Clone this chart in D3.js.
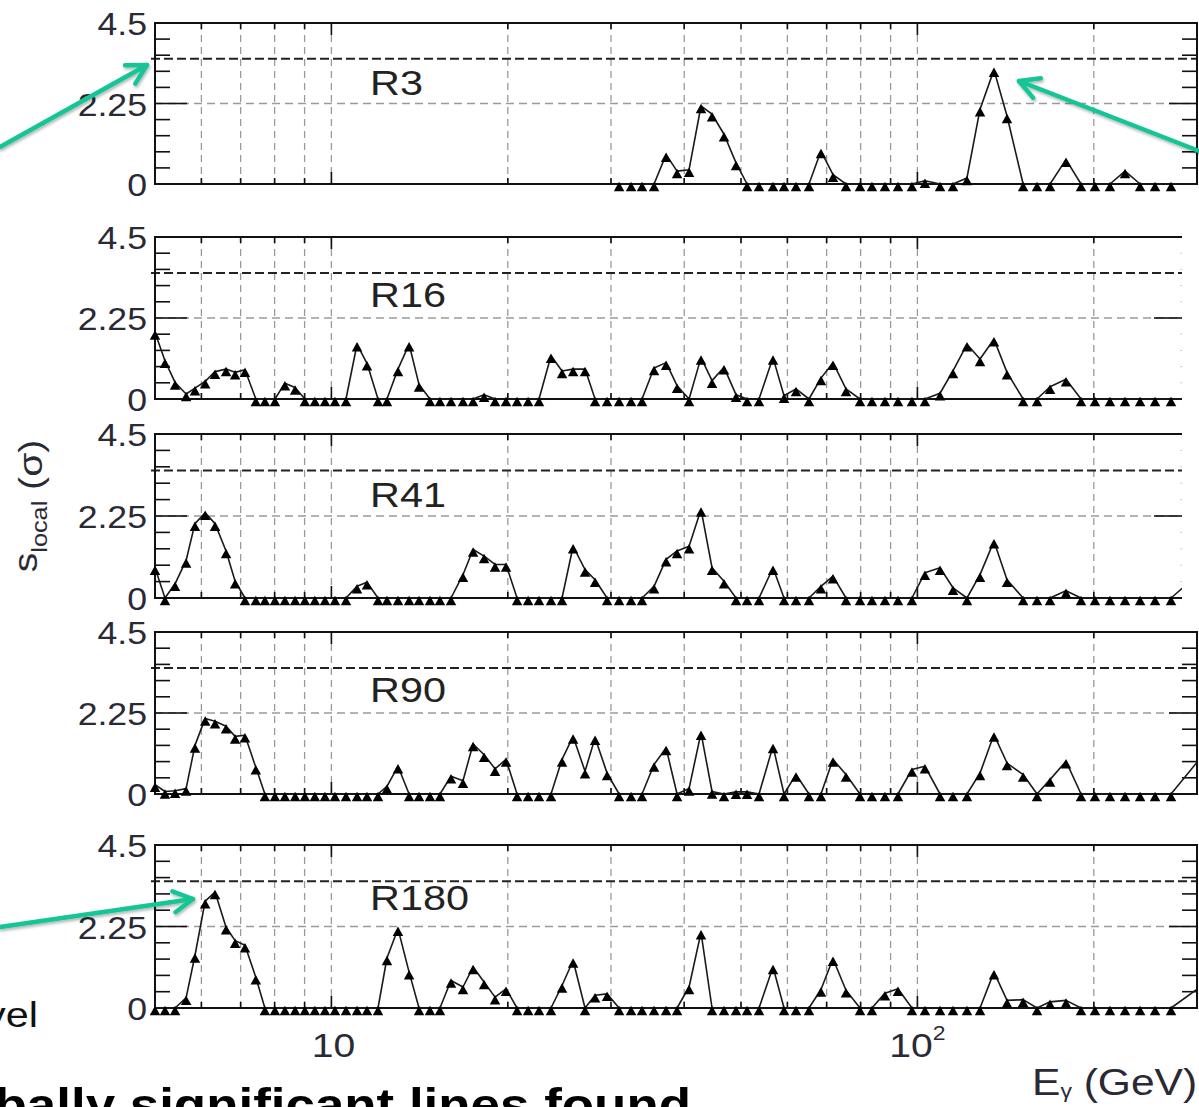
<!DOCTYPE html>
<html>
<head>
<meta charset="utf-8">
<script src="https://cdn.jsdelivr.net/npm/d3@7"></script>
<style>
  html, body { margin: 0; padding: 0; background: #fff; overflow: hidden; }
  svg { display: block; }
  text { font-family: "Liberation Sans", Arial, Helvetica, sans-serif; fill: #222; }
</style>
</head>
<body>
<svg id="chart" width="1199" height="1107"></svg>
<script>
// Line energies (GeV) at which the fits were done, shared by every region
const energies = [
  5.00, 5.20, 5.41, 5.65, 5.85, 6.09, 6.33, 6.61, 6.85, 7.12,
  7.43, 7.70, 8.01, 8.33, 8.67, 9.01, 9.37, 9.75, 10.14, 10.59,
  11.06, 11.50, 12.01, 12.44, 12.99, 13.57, 14.11, 14.73, 15.32, 16.00,
  16.77, 17.45, 18.22, 19.02, 19.86, 20.74, 21.66, 22.61, 23.70, 24.75,
  25.85, 27.09, 28.18, 29.54, 30.97, 32.46, 33.89, 35.53, 37.25, 38.89,
  40.77, 42.73, 44.62, 46.77, 49.03, 51.20, 53.67, 56.70, 59.21, 62.06,
  65.31, 68.46, 71.77, 75.53, 79.80, 83.65, 88.03, 92.65, 97.88, 103.0,
  109.3, 115.0, 121.5, 127.9, 135.1, 142.2, 151.5, 160.0, 168.4, 179.3,
  190.2, 200.9, 213.1, 226.1, 239.9, 254.4, 270.9, 318.3
];

// Region names, one panel each
const regionNames = ["R3", "R16", "R41", "R90", "R180"];

// Local significance (sigma) per region; R3 has no fits below ~30 GeV
const sigmaR3 = [
  null, null, null, null, null, null, null, null, null, null,
  null, null, null, null, null, null, null, null, null, null,
  null, null, null, null, null, null, null, null, null, null,
  null, null, null, null, null, null, null, null, null, null,
  null, null, null, null, 0, 0, 0, 0, 0.82, 0.36,
  0.40, 2.18, 1.95, 1.39, 0.59, 0, 0, 0, 0, 0,
  0, 0.92, 0.26, 0, 0, 0, 0, 0, 0, 0.09,
  0, 0, 0.17, 2.09, 3.19, 1.90, 0, 0, 0, 0.68,
  0, 0, 0, 0.36, 0, 0, 0, 0
];
const sigmaR16 = [
  1.85, 1.06, 0.46, 0.14, 0.30, 0.49, 0.76, 0.83, 0.74, 0.81,
  0, 0, 0, 0.44, 0.32, 0, 0, 0, 0, 0,
  1.52, 0.99, 0, 0, 0.83, 1.52, 0.40, 0, 0, 0,
  0, 0, 0.12, 0, 0, 0, 0, 0, 1.20, 0.78,
  0.83, 0.83, 0, 0, 0, 0, 0, 0.86, 1.01, 0.37,
  0, 1.15, 0.51, 0.88, 0.12, 0, 0, 1.15, 0.09, 0.28,
  0, 0.58, 1.01, 0.28, 0, 0, 0, 0, 0, 0,
  0.16, 0.78, 1.52, 1.11, 1.66, 0.74, 0, 0, 0.34, 0.55,
  0, 0, 0, 0, 0, 0, 0, 0
];
const sigmaR41 = [
  0.83, 0, 0.39, 1.03, 2.04, 2.34, 2.04, 1.29, 0.46, 0,
  0, 0, 0, 0, 0, 0, 0, 0, 0, 0,
  0.32, 0.43, 0, 0, 0, 0, 0, 0, 0, 0,
  0.64, 1.33, 1.15, 0.92, 0.92, 0, 0, 0, 0, 0,
  1.42, 0.78, 0.50, 0, 0, 0, 0, 0.32, 1.06, 1.29,
  1.42, 2.43, 0.83, 0.46, 0, 0, 0, 0.83, 0, 0,
  0, 0.32, 0.60, 0, 0, 0, 0, 0, 0, 0.69,
  0.83, 0.28, 0, 0.64, 1.56, 0.50, 0, 0, 0, 0.20,
  0, 0, 0, 0, 0, 0, 0, 0.97
];
const sigmaR90 = [
  0.26, 0.07, 0.09, 0.15, 1.35, 2.10, 2.02, 1.88, 1.60, 1.63,
  0.74, 0, 0, 0, 0, 0, 0, 0, 0, 0,
  0, 0, 0, 0.21, 0.77, 0, 0, 0, 0, 0.49,
  0.37, 1.39, 1.09, 0.70, 0.96, 0, 0, 0, 0, 0.96,
  1.60, 0.63, 1.56, 0.58, 0, 0, 0, 0.82, 1.28, 0,
  0.15, 1.70, 0.07, 0, 0.06, 0.06, 0, 1.33, 0, 0.54,
  0, 0, 0.96, 0.54, 0, 0, 0, 0, 0.68, 0.77,
  0, 0, 0, 0.58, 1.65, 0.86, 0.54, 0, 0.40, 0.91,
  0, 0, 0, 0, 0, 0, 0, 1.39
];
const sigmaR180 = [
  0, 0, 0, 0.28, 1.45, 2.95, 3.20, 2.23, 1.86, 1.73,
  0.85, 0, 0, 0, 0, 0, 0, 0, 0, 0,
  0, 0, 0, 1.38, 2.19, 0.99, 0, 0, 0, 0.76,
  0.58, 1.13, 0.72, 0.30, 0.53, 0, 0, 0, 0, 0.62,
  1.31, 0, 0.35, 0.39, 0, 0, 0, 0, 0, 0,
  0.58, 2.09, 0, 0, 0, 0, 0, 1.13, 0, 0,
  0, 0.51, 1.36, 0.49, 0, 0, 0.41, 0.53, 0, 0,
  0, 0, 0, 0, 0.99, 0.21, 0.23, 0, 0.17, 0.21,
  0, 0, 0, 0, 0, 0, 0, 0.82
];

// Axis settings
const xDomain = [5, 300];
const xGridValues = [6, 7, 8, 9, 10, 20, 30, 40, 50, 60, 70, 80, 90, 100, 200];
const xMajorValues = [10, 100];
const yDomain = [0, 4.5];
const yTickLabels = ["0", "2.25", "4.5"];
const yMajorValues = [0, 2.25, 4.5];
const yMinorValues = [0.45, 0.9, 1.35, 1.8, 2.7, 3.15, 3.6, 4.05];
const thresholdSigma = 3.5;

const seriesList = [sigmaR3, sigmaR16, sigmaR41, sigmaR90, sigmaR180];

// ---------------- layout ----------------
const W = 1199, H = 1107;
const plotLeft = 155;
const panelLayout = [
  { top: 23,  zero: 184,  right: 1197, faintRight: false, labelY: 95 },
  { top: 237, zero: 399,  right: 1182, faintRight: true,  labelY: 307 },
  { top: 434, zero: 598,  right: 1182, faintRight: true,  labelY: 507 },
  { top: 632, zero: 794,  right: 1197, faintRight: false, labelY: 702 },
  { top: 845, zero: 1008, right: 1197, faintRight: false, labelY: 910 }
];
const SX = 1.15;           // horizontal stretch of the lettering
const teal = "#14c596";

const svg = d3.select("#chart");
const defs = svg.append("defs");
defs.append("filter").attr("id", "arrowShadow")
  .attr("x", "-20%").attr("y", "-20%").attr("width", "140%").attr("height", "140%")
  .append("feDropShadow")
  .attr("dx", 1).attr("dy", 2).attr("stdDeviation", 1.6)
  .attr("flood-color", "#000").attr("flood-opacity", 0.3);

const x = d3.scaleLog().domain(xDomain).range([plotLeft, 1197]);

function label(parent, px, py, str, size, anchor, weight) {
  return parent.append("text")
    .attr("transform", `translate(${px},${py}) scale(${SX},1)`)
    .attr("text-anchor", anchor || "start")
    .style("font-size", size + "px")
    .style("font-weight", weight || "normal")
    .text(str);
}

const triW = 10.5, triH = 9.5, triDy = 2.5;
const triPath = `M0,${-triH / 2 + triDy}L${triW / 2},${triH / 2 + triDy}L${-triW / 2},${triH / 2 + triDy}Z`;

seriesList.forEach((values, i) => {
  const L = panelLayout[i];
  const y = d3.scaleLinear().domain(yDomain).range([L.zero, L.top]);
  const g = svg.append("g").attr("class", "panel");
  const right = L.right;

  // vertical grid
  g.append("g").selectAll("line").data(xGridValues).join("line")
    .attr("x1", d => x(d)).attr("x2", d => x(d))
    .attr("y1", L.top).attr("y2", L.zero)
    .attr("stroke", "#9a9a9a").attr("stroke-width", 1.3)
    .attr("stroke-dasharray", "7,5");

  // horizontal grid at the middle tick
  g.append("line")
    .attr("x1", plotLeft).attr("x2", right)
    .attr("y1", y(2.25)).attr("y2", y(2.25))
    .attr("stroke", "#9a9a9a").attr("stroke-width", 1.3)
    .attr("stroke-dasharray", "8,5");

  // threshold level
  g.append("line")
    .attr("x1", plotLeft - 4).attr("x2", right)
    .attr("y1", y(thresholdSigma)).attr("y2", y(thresholdSigma))
    .attr("stroke", "#222").attr("stroke-width", 2)
    .attr("stroke-dasharray", "9,4");

  // y ticks (left, inward)
  const tickG = g.append("g").attr("stroke", "#111").attr("stroke-width", 1.6);
  tickG.selectAll(".lmin").data(yMinorValues).join("line")
    .attr("x1", plotLeft).attr("x2", plotLeft + 15)
    .attr("y1", d => y(d)).attr("y2", d => y(d));
  tickG.append("line")
    .attr("x1", plotLeft).attr("x2", plotLeft + 32)
    .attr("y1", y(2.25)).attr("y2", y(2.25));

  // y ticks (right, inward)
  if (!L.faintRight) {
    tickG.selectAll(".rmin").data(yMinorValues).join("line")
      .attr("x1", right).attr("x2", right - 15)
      .attr("y1", d => y(d)).attr("y2", d => y(d));
  } else {
    g.append("g").selectAll("line").data(yMinorValues).join("line")
      .attr("x1", right).attr("x2", right - 1.5)
      .attr("y1", d => y(d)).attr("y2", d => y(d))
      .attr("stroke", "#bbb").attr("stroke-width", 1);
  }
  tickG.append("line")
    .attr("x1", right).attr("x2", right - 28)
    .attr("y1", y(2.25)).attr("y2", y(2.25));

  // x ticks on bottom and top borders
  tickG.selectAll(".xb").data(xGridValues).join("line")
    .attr("x1", d => x(d)).attr("x2", d => x(d))
    .attr("y1", L.zero).attr("y2", d => L.zero - (xMajorValues.includes(d) ? 12 : 6));
  tickG.selectAll(".xt").data(xGridValues).join("line")
    .attr("x1", d => x(d)).attr("x2", d => x(d))
    .attr("y1", L.top).attr("y2", d => L.top + (xMajorValues.includes(d) ? 12 : 6));

  // frame
  const frame = g.append("g").attr("fill", "none").attr("stroke", "#111").attr("stroke-width", 2);
  frame.append("path")
    .attr("d", L.faintRight
      ? `M${right},${L.top}H${plotLeft}V${L.zero}H${right}`
      : `M${plotLeft},${L.top}H${right}V${L.zero}H${plotLeft}Z`);

  // y tick labels
  yMajorValues.forEach((v, k) => {
    label(g, 147, y(v) + 12, yTickLabels[k], 31, "end").style("fill", "#2a2a36");
  });

  // region name
  label(g, 370, L.labelY, regionNames[i], 36, "start");

  // data: line and triangle markers, clipped at the right border
  const clipId = "clip" + i;
  defs.append("clipPath").attr("id", clipId)
    .append("rect").attr("x", 0).attr("y", 0).attr("width", right).attr("height", H);

  const pts = energies.map((e, k) => ({ e, v: values[k] }));
  const dataG = g.append("g").attr("clip-path", `url(#${clipId})`);
  const line = d3.line()
    .defined(d => d.v != null)
    .x(d => x(d.e))
    .y(d => y(d.v));
  dataG.append("path")
    .datum(pts)
    .attr("d", line)
    .attr("fill", "none")
    .attr("stroke", "#1a1a1a")
    .attr("stroke-width", 1.6)
    .attr("stroke-linejoin", "round");
  dataG.selectAll("path.mk").data(pts.filter(d => d.v != null)).join("path")
    .attr("class", "mk")
    .attr("d", triPath)
    .attr("transform", d => `translate(${x(d.e)},${y(d.v)})`)
    .attr("fill", "#000");
});

// x-axis labels under the last panel
const xl = svg.append("g");
label(xl, x(10) + 2, 1057, "10", 34, "middle").style("fill", "#2a2a36");
const t100 = label(xl, x(100), 1057, "", 34, "middle").style("fill", "#2a2a36");
t100.append("tspan").text("10");
t100.append("tspan").attr("dy", -17).style("font-size", "20px").text("2");

const et = label(xl, 1032, 1095, "", 37, "start").style("fill", "#2a2a36");
et.append("tspan").text("E");
et.append("tspan").attr("dy", 3).style("font-size", "20px").text("γ");
et.append("tspan").attr("dy", -3).text(" (GeV)");

// y-axis title, read bottom to top
const yt = svg.append("text")
  .attr("transform", `translate(37,506) rotate(-90) scale(${SX},1)`)
  .attr("text-anchor", "middle")
  .style("font-size", "34px")
  .style("fill", "#2a2a36");
yt.append("tspan").text("s");
yt.append("tspan").attr("dy", 10).style("font-size", "22px").text("local");
yt.append("tspan").attr("dy", -5).text(" (σ)");

// slide text around the figure
label(svg, 38, 1027, "level", 36, "end").style("fill", "#111");
label(svg, 691, 1121, "No globally significant lines found", 46, "end", "bold").style("fill", "#000");

// annotation arrows
const arrows = [
  { from: [0, 147], to: [147, 65] },
  { from: [1199, 151], to: [1019, 81] },
  { from: [0, 927], to: [193, 899] }
];
const ag = svg.append("g").attr("filter", "url(#arrowShadow)")
  .attr("stroke", teal).attr("stroke-width", 4.5).attr("fill", "none")
  .attr("stroke-linecap", "round").attr("stroke-linejoin", "round");
arrows.forEach(a => {
  const [x0, y0] = a.from, [x1, y1] = a.to;
  const ang = Math.atan2(y1 - y0, x1 - x0);
  const len = 22, spread = 0.5;
  const p1 = [x1 - len * Math.cos(ang - spread), y1 - len * Math.sin(ang - spread)];
  const p2 = [x1 - len * Math.cos(ang + spread), y1 - len * Math.sin(ang + spread)];
  ag.append("path").attr("d", `M${x0},${y0}L${x1},${y1}`);
  ag.append("path").attr("d", `M${p1[0]},${p1[1]}L${x1},${y1}L${p2[0]},${p2[1]}`);
});
</script>
</body>
</html>
